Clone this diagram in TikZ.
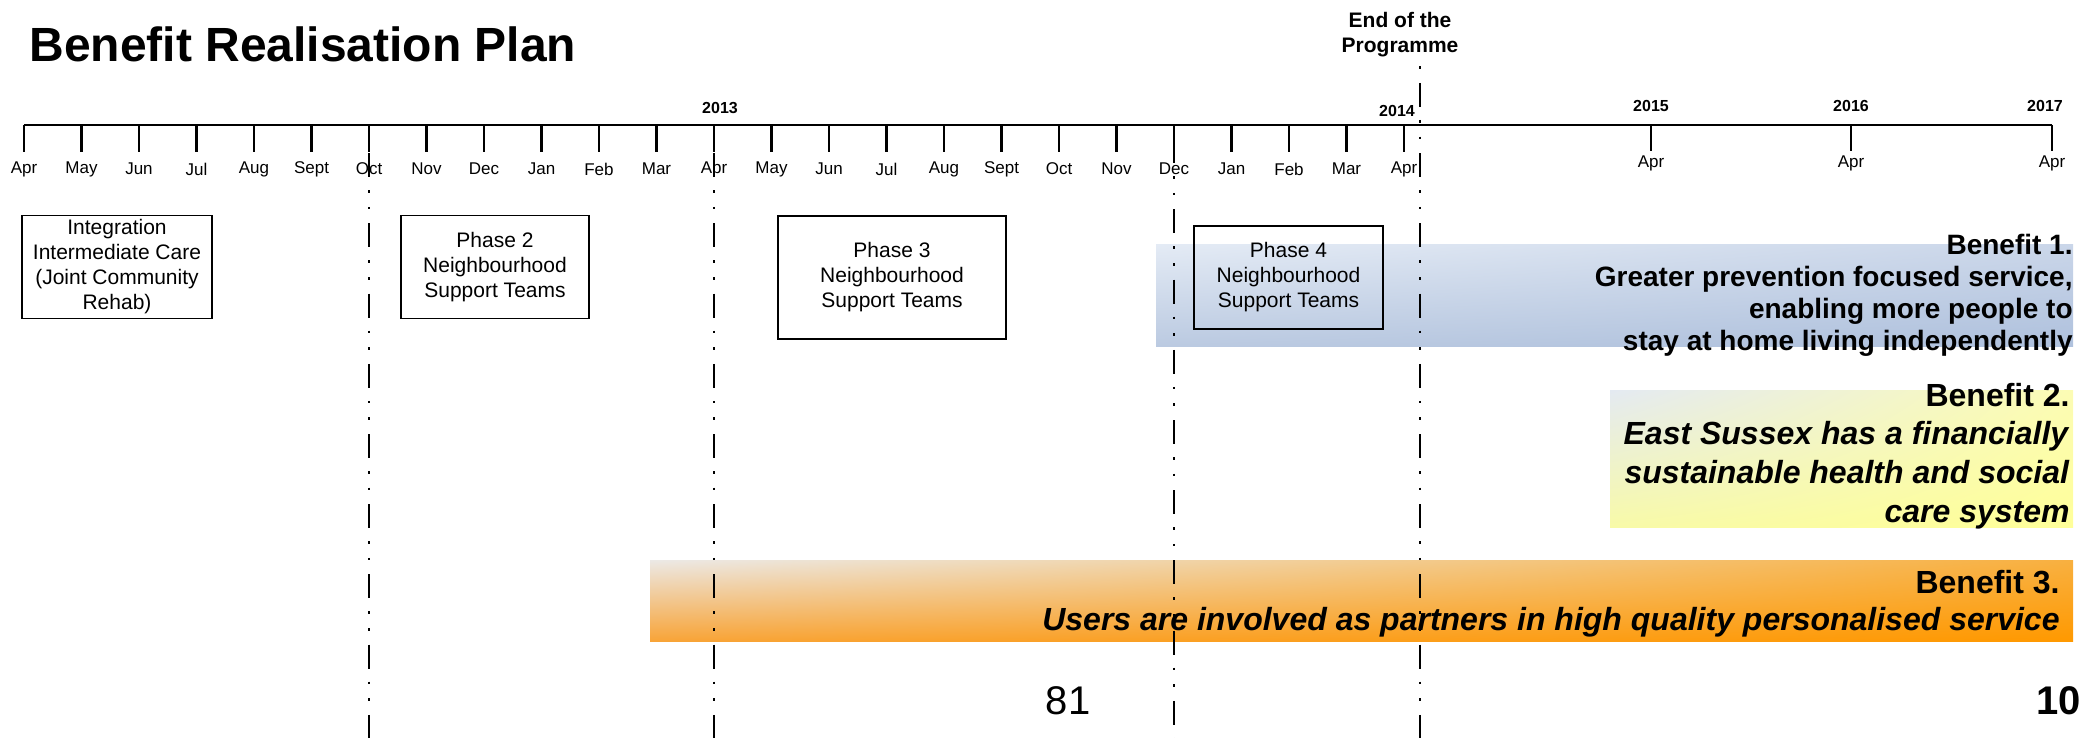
\documentclass[tikz,border=0pt]{standalone}
\usepackage{fontspec}
\setmainfont{Liberation Sans}
\usetikzlibrary{shadings}
\definecolor{bOneUL}{HTML}{E4EBF5}
\definecolor{bOneUR}{HTML}{CAD6E9}
\definecolor{bOneLL}{HTML}{BBCAE1}
\definecolor{bOneLR}{HTML}{AFC1DD}
\definecolor{bTwoUL}{HTML}{E4EAF2}
\definecolor{bTwoUR}{HTML}{FCFCB4}
\definecolor{bTwoLL}{HTML}{F8FAA8}
\definecolor{bTwoLR}{HTML}{FFFF99}
\definecolor{bThrUL}{HTML}{ECE9E6}
\definecolor{bThrUR}{HTML}{F8B040}
\definecolor{bThrLL}{HTML}{F8A438}
\definecolor{bThrLR}{HTML}{FF9900}
\begin{document}
\begin{tikzpicture}[x=0.5pt,y=-0.5pt,
  month/.style={font=\fontsize{8.5}{10}\selectfont, inner sep=0pt},
  yearlab/.style={font=\bfseries\fontsize{8}{9.6}\selectfont, inner sep=0pt},
  tickline/.style={line width=1.3pt},
  phasebox/.style={draw, line width=0.75pt, align=center, inner sep=0pt, font=\fontsize{10.5}{12.5}\selectfont},
  milestone/.style={line width=1.3pt, dash pattern=on 12pt off 6.5pt on 1.3pt off 7pt on 1.3pt off 7pt},
  bentext/.style={align=right, inner sep=0pt, anchor=east}
]
\useasboundingbox (0,0) rectangle (2081,738);

% title
\node[anchor=west, inner sep=0pt, font=\bfseries\fontsize{24}{28}\selectfont] (title) at (29,44) {Benefit Realisation Plan};
\node[align=center, inner sep=0pt, font=\bfseries\fontsize{10.5}{12.5}\selectfont] (endprog) at (1400,35) {End of the\\Programme};

% bands
\shade[upper left=bOneUL, upper right=bOneUR, lower left=bOneLL, lower right=bOneLR] (1156,244) rectangle (2073,346);
\shade[upper left=bTwoUL, upper right=bTwoUR, lower left=bTwoLL, lower right=bTwoLR] (1610,390) rectangle (2073,527);
\shade[upper left=bThrUL, upper right=bThrUR, lower left=bThrLL, lower right=bThrLR] (650,560) rectangle (2073,641);

% axis
\draw[tickline] (24,125) -- (2052,125);
\foreach \m [count=\i from 0] in {Apr,May,Jun,Jul,Aug,Sept,Oct,Nov,Dec,Jan,Feb,Mar,Apr,May,Jun,Jul,Aug,Sept,Oct,Nov,Dec,Jan,Feb,Mar,Apr}{
  \draw[tickline] ({24+57.5*\i},125) -- ({24+57.5*\i},152);
  \node[month] (m\i) at ({24+57.5*\i},169) {\m};
}
\foreach \x [count=\j] in {1651,1851,2052}{
  \draw[tickline] (\x,125) -- (\x,151);
  \node[month] (ya\j) at (\x,163) {Apr};
}
\node[yearlab] (y13) at (720,108) {2013};
\node[yearlab] (y14) at (1397,111) {2014};
\node[yearlab] (y15) at (1651,106) {2015};
\node[yearlab] (y16) at (1851,106) {2016};
\node[yearlab] (y17) at (2045,106) {2017};

% phase boxes
\node[phasebox, minimum width=95pt, minimum height=51.5pt] (p1) at (117,267) {Integration\\Intermediate Care\\(Joint Community\\Rehab)};
\node[phasebox, minimum width=94pt, minimum height=51.5pt] (p2) at (495,267) {Phase 2\\Neighbourhood\\Support Teams};
\node[phasebox, minimum width=114pt, minimum height=61.5pt] (p3) at (892,277.5) {Phase 3\\Neighbourhood\\Support Teams};
\node[phasebox, minimum width=94.5pt, minimum height=51.5pt] (p4) at (1288.5,277.5) {Phase 4\\Neighbourhood\\Support Teams};

% milestone lines
\coordinate (l1a) at (369,125); \coordinate (l1b) at (369,738);
\coordinate (l2a) at (714,125); \coordinate (l2b) at (714,738);
\coordinate (l3a) at (1174,125); \coordinate (l3b) at (1174,738);
\coordinate (l4a) at (1420,62); \coordinate (l4b) at (1420,738);
\draw[milestone, dash phase=21pt] (l1a) -- (l1b);
\draw[milestone, dash phase=21pt] (l2a) -- (l2b);
\draw[milestone, dash phase=28pt] (l3a) -- (l3b);
\draw[milestone, dash phase=24.6pt] (l4a) -- (l4b);

% benefit texts
\node[bentext, font=\bfseries\fontsize{14}{16}\selectfont] (b1) at (2073,295) {Benefit 1.\\Greater prevention focused service,\\enabling more people to\\stay at home living independently};
\node[bentext, font=\bfseries\fontsize{16}{19.3}\selectfont] (b2) at (2070,456) {Benefit 2.\\\textit{East Sussex has a financially}\\\textit{sustainable health and social}\\\textit{care system}};
\node[bentext, font=\bfseries\fontsize{16}{18.5}\selectfont] (b3) at (2060,604) {Benefit 3.\\\textit{Users are involved as partners in high quality personalised service}};

% page numbers
\node[inner sep=0pt, font=\fontsize{20}{24}\selectfont] (pg) at (1068,701) {81};
\node[inner sep=0pt, anchor=east, font=\bfseries\fontsize{20}{24}\selectfont] (pgr) at (2081,701) {10};
\end{tikzpicture}
\end{document}
